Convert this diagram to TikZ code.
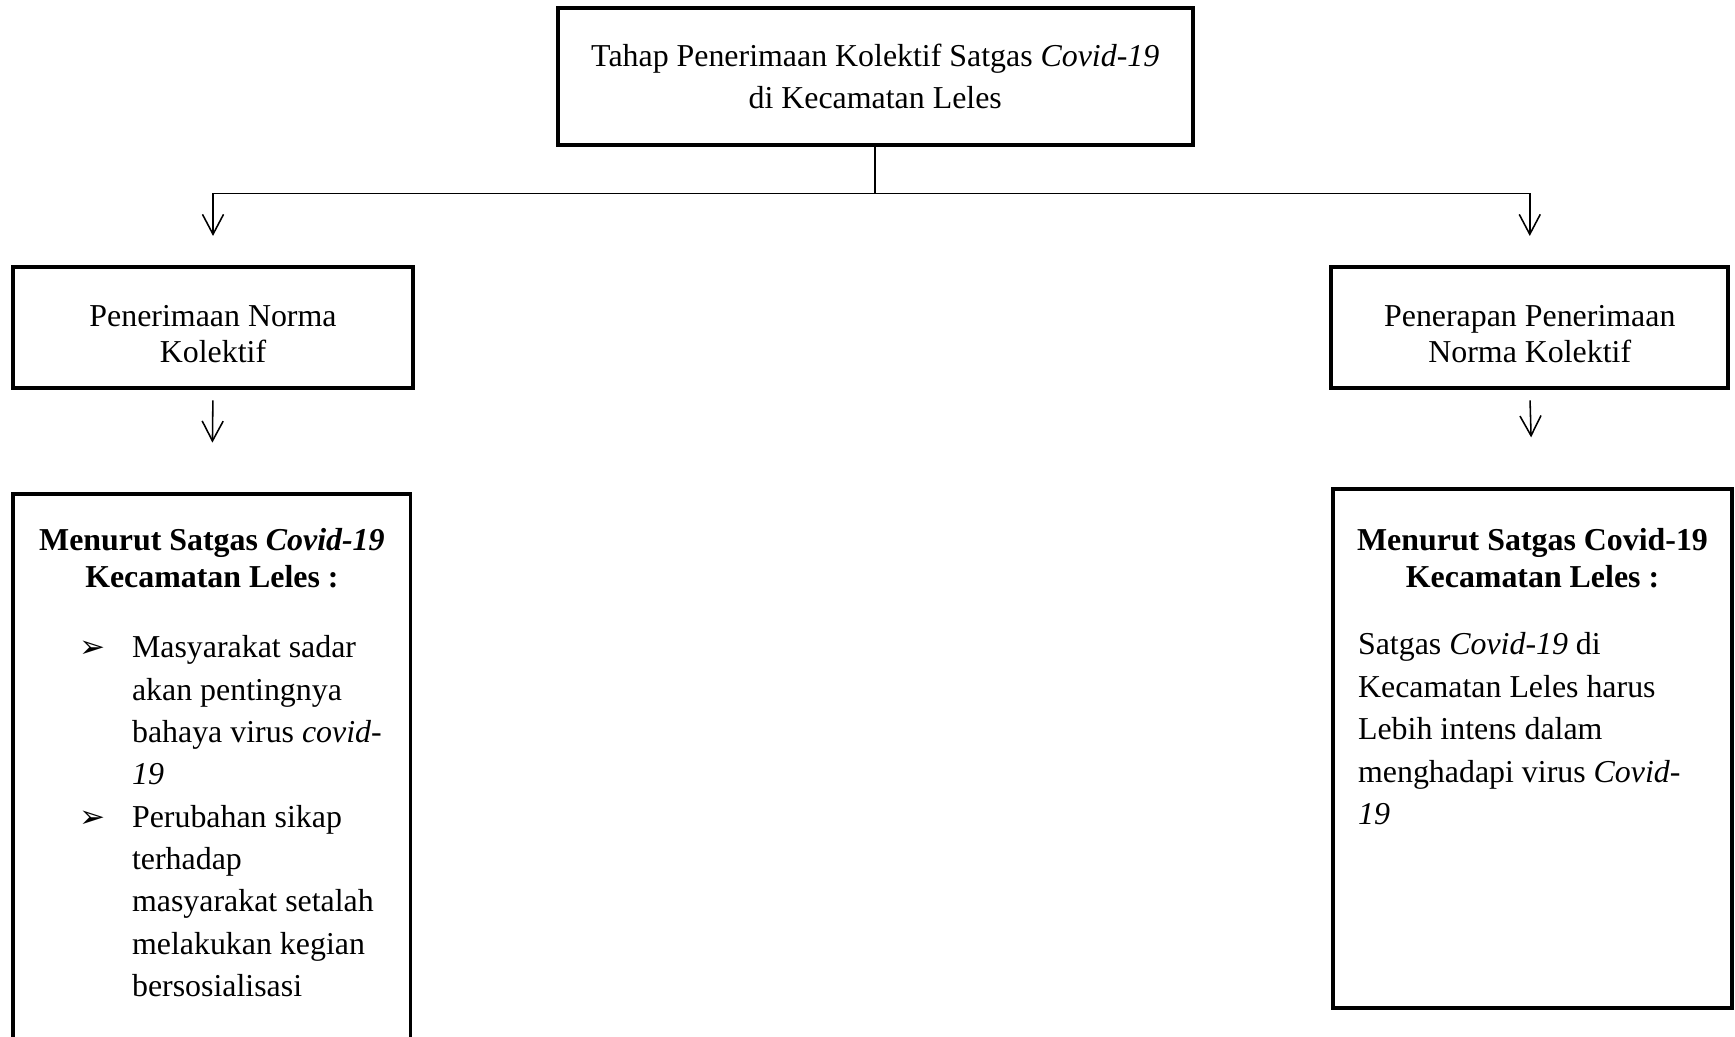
\documentclass[tikz,border=0pt]{standalone}
\usepackage{fontspec}
\setmainfont{Liberation Serif}
\newfontfamily\symfont{DejaVu Sans}
\usepackage{tikz}
\usetikzlibrary{arrows.meta}
\newcommand{\bul}{\llap{{\symfont\fontsize{16}{16}\selectfont ➢}\hspace{0.48cm}}}
\tikzstyle{box}       = [draw,line width=2pt,inner sep=0pt,align=center]
\tikzstyle{txt}       = [inner sep=0pt,align=left,anchor=north west]
\tikzstyle{head}      = [inner sep=0pt,align=center,anchor=north,font=\bfseries\fontsize{16.4}{18.8}\selectfont]
\tikzstyle{arrow}     = [line width=0.8pt,-{Straight Barb[length=0.36cm,width=0.38cm]}]

\begin{document}
\begin{tikzpicture}[font=\fontsize{16.4}{21.8}\selectfont]
          \useasboundingbox (0, 0) rectangle (31.36, -18.74);
          \node[box,minimum width=11.48cm,minimum height=2.48cm](tahap)at(15.82, -1.38){Tahap Penerimaan Kolektif Satgas \textit{Covid-19}\\di Kecamatan Leles};
          \node[box,minimum width=7.22cm,minimum height=2.2cm](norma)at(3.85, -5.92){};
          \node[box,minimum width=7.18cm,minimum height=2.2cm](terap)at(27.65, -5.92){};
          \node[inner sep=0pt,align=center,font=\fontsize{16.4}{18.6}\selectfont](tnorma)at(3.85, -6.04){Penerimaan Norma\\Kolektif};
          \node[inner sep=0pt,align=center,font=\fontsize{16.4}{18.6}\selectfont](tterap)at(27.65, -6.04){Penerapan Penerimaan\\Norma Kolektif};
          \node[box,minimum width=7.18cm,minimum height=10.5cm,anchor=north](kiri)at(3.83, -8.9){};
          \node[box,minimum width=7.2cm,minimum height=9.38cm](kanan)at(27.7, -13.53){};
          \node[head](hkiri)at(3.83, -9.55){Menurut Satgas \textit{Covid-19}\\Kecamatan Leles :};
          \node[head](hkanan)at(27.7, -9.55){Menurut Satgas Covid-19\\Kecamatan Leles :};
          \node[txt](isikiri)at(2.38, -11.48){\bul Masyarakat sadar\\akan pentingnya\\bahaya virus \textit{covid-}\\\textit{19}\\\bul Perubahan sikap\\terhadap\\masyarakat setalah\\melakukan kegian\\bersosialisasi};
          \node[txt](isikanan)at(24.54, -11.43){Satgas \textit{Covid-19} di\\Kecamatan Leles harus\\Lebih intens dalam\\menghadapi virus \textit{Covid-}\\\textit{19}};
          \draw[arrow,shorten >=0.52cm](tahap.south)--++(0, -0.84)-|(norma.north);
          \draw[arrow,shorten >=0.52cm](tahap.south)--++(0, -0.84)-|(terap.north);
          \draw[arrow,shorten <=0.18cm,shorten >=0.9cm](norma.south)--(kiri.north);
          \draw[arrow,shorten <=0.18cm,shorten >=0.9cm](terap.south)--(kanan.north);
      \end{tikzpicture}
\end{document}
